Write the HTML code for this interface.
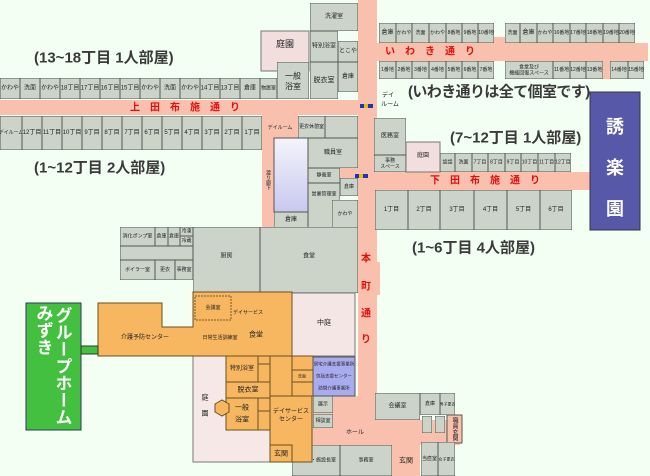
<!DOCTYPE html>
<html><head><meta charset="utf-8">
<style>
html,body{margin:0;padding:0;background:#f2fff2;}
svg{display:block;font-family:"Liberation Sans","Noto Sans CJK JP",sans-serif;}
.r rect{fill:#ccd4ca;stroke:#505850;stroke-width:1;}
.o rect{fill:#f7b660;stroke:#6a5020;stroke-width:1;}
text{font-size:6px;fill:#222;text-anchor:middle;dominant-baseline:central;}
.c{fill:#f9c0ad;}
.big{font-size:15px;font-weight:bold;fill:#3a3a3a;text-anchor:start;}
.red{font-size:10px;font-weight:bold;fill:#e01010;}
</style></head><body>
<svg width="650" height="476" viewBox="0 0 650 476">
<defs><linearGradient id="gl" x1="0" y1="0" x2="0" y2="1"><stop offset="0" stop-color="#f4f4fc"/><stop offset="1" stop-color="#c8c8ee"/></linearGradient></defs>
<rect width="650" height="476" fill="#f2fff2"/>
<!-- corridors -->
<rect class="c" x="0" y="100" width="377" height="15"/>
<rect class="c" x="358" y="0" width="19" height="420"/>
<rect class="c" x="377" y="43" width="271" height="18"/>
<rect class="c" x="494" y="37" width="11" height="8"/>
<rect class="c" x="603" y="60" width="7" height="19"/>
<rect class="c" x="262" y="115" width="36" height="23"/>
<rect class="c" x="262" y="138" width="12" height="90"/>
<rect class="c" x="340" y="168" width="20" height="10"/>
<rect class="c" x="375" y="172" width="215" height="18"/>
<rect class="c" x="375" y="262" width="5" height="33"/>
<rect class="c" x="312" y="396" width="63" height="49"/>
<rect class="c" x="375" y="420" width="85" height="25"/>
<rect class="c" x="392" y="445" width="28" height="31"/>
<rect class="c" x="447" y="415" width="15" height="28" stroke="#505850" stroke-width="1"/>
<text x="454" y="429" style="writing-mode:vertical-rl">職員玄関</text>

<text class="red" x="190" y="108" letter-spacing="10">上田布施通り</text>
<text class="red" x="435" y="52" letter-spacing="10">いわき通り</text>
<text class="red" x="490" y="181" letter-spacing="10">下田布施通り</text>
<text class="red" x="366" y="259">本</text><text class="red" x="366" y="287">町</text>
<text class="red" x="366" y="314">通</text><text class="red" x="366" y="340">り</text>
<text x="355" y="433">ホール</text>

<text class="big" x="34" y="58">(13~18丁目 1人部屋)</text>
<text class="big" x="34" y="168">(1~12丁目 2人部屋)</text>
<text class="big" x="408" y="92" letter-spacing="-0.6">(いわき通りは全て個室です)</text>
<text class="big" x="450" y="138">(7~12丁目 1人部屋)</text>
<text class="big" x="412" y="248">(1~6丁目 4人部屋)</text>

<!-- gardens -->
<rect x="261" y="31" width="48" height="40" fill="#f3dede" stroke="#777"/>
<text x="285" y="44" style="font-size:9px">庭園</text>
<rect x="406" y="142" width="34" height="30" fill="#f3dede" stroke="#777"/>
<text x="423" y="156">庭園</text>
<rect x="292" y="293" width="63" height="63" fill="#f5e6e6" stroke="#777"/>
<text x="324" y="323" style="font-size:7px">中庭</text>
<rect x="193" y="356" width="77" height="106" fill="#f5e8e6" stroke="#777"/>
<text x="205" y="398" style="font-size:7px">庭</text><text x="205" y="414" style="font-size:7px">園</text>
<rect x="274" y="138" width="34" height="74" fill="url(#gl)" stroke="#555"/>

<g class="r">
<svg x="0" y="78" width="20" height="21"><rect width="100%" height="100%"/><text x="50%" y="50%">かわや</text></svg>
<svg x="20" y="78" width="20" height="21"><rect width="100%" height="100%"/><text x="50%" y="50%">洗面</text></svg>
<svg x="40" y="78" width="20" height="21"><rect width="100%" height="100%"/><text x="50%" y="50%">かわや</text></svg>
<svg x="60" y="78" width="20" height="21"><rect width="100%" height="100%"/><text x="50%" y="50%">18丁目</text></svg>
<svg x="80" y="78" width="20" height="21"><rect width="100%" height="100%"/><text x="50%" y="50%">17丁目</text></svg>
<svg x="100" y="78" width="20" height="21"><rect width="100%" height="100%"/><text x="50%" y="50%">16丁目</text></svg>
<svg x="120" y="78" width="20" height="21"><rect width="100%" height="100%"/><text x="50%" y="50%">15丁目</text></svg>
<svg x="140" y="78" width="20" height="21"><rect width="100%" height="100%"/><text x="50%" y="50%">かわや</text></svg>
<svg x="160" y="78" width="20" height="21"><rect width="100%" height="100%"/><text x="50%" y="50%">洗面</text></svg>
<svg x="180" y="78" width="20" height="21"><rect width="100%" height="100%"/><text x="50%" y="50%">かわや</text></svg>
<svg x="200" y="78" width="20" height="21"><rect width="100%" height="100%"/><text x="50%" y="50%">14丁目</text></svg>
<svg x="220" y="78" width="20" height="21"><rect width="100%" height="100%"/><text x="50%" y="50%">13丁目</text></svg>
<svg x="240" y="78" width="20" height="21"><rect width="100%" height="100%"/><text x="50%" y="50%">倉庫</text></svg>
<svg x="260" y="78" width="17" height="21"><rect width="100%" height="100%"/><text x="50%" y="50%" style="font-size:5px">物置室</text></svg>
<svg x="277" y="62" width="32" height="37"><rect width="100%" height="100%"/><text x="50%" y="38%" style="font-size:8px">一般</text><text x="50%" y="66%" style="font-size:8px">浴室</text></svg>
<svg x="310" y="3" width="48" height="28"><rect width="100%" height="100%"/><text x="50%" y="50%">洗濯室</text></svg>
<svg x="310" y="31" width="28" height="31"><rect width="100%" height="100%"/><text x="50%" y="50%">特別浴室</text></svg>
<svg x="338" y="41" width="20" height="21"><rect width="100%" height="100%"/><text x="50%" y="50%">とこや</text></svg>
<svg x="310" y="62" width="28" height="37"><rect width="100%" height="100%"/><text x="50%" y="50%" style="font-size:7px">脱衣室</text></svg>
<svg x="338" y="62" width="20" height="30"><rect width="100%" height="100%"/><text x="50%" y="50%">倉庫</text></svg>
<svg x="0" y="116" width="22" height="34"><rect width="100%" height="100%"/><text x="50%" y="50%" style="font-size:5px">デイルーム</text></svg>
<svg x="22" y="116" width="20" height="34"><rect width="100%" height="100%"/><text x="50%" y="50%">12丁目</text></svg>
<svg x="42" y="116" width="20" height="34"><rect width="100%" height="100%"/><text x="50%" y="50%">11丁目</text></svg>
<svg x="62" y="116" width="20" height="34"><rect width="100%" height="100%"/><text x="50%" y="50%">10丁目</text></svg>
<svg x="82" y="116" width="20" height="34"><rect width="100%" height="100%"/><text x="50%" y="50%">9丁目</text></svg>
<svg x="102" y="116" width="20" height="34"><rect width="100%" height="100%"/><text x="50%" y="50%">8丁目</text></svg>
<svg x="122" y="116" width="20" height="34"><rect width="100%" height="100%"/><text x="50%" y="50%">7丁目</text></svg>
<svg x="142" y="116" width="20" height="34"><rect width="100%" height="100%"/><text x="50%" y="50%">6丁目</text></svg>
<svg x="162" y="116" width="20" height="34"><rect width="100%" height="100%"/><text x="50%" y="50%">5丁目</text></svg>
<svg x="182" y="116" width="20" height="34"><rect width="100%" height="100%"/><text x="50%" y="50%">4丁目</text></svg>
<svg x="202" y="116" width="20" height="34"><rect width="100%" height="100%"/><text x="50%" y="50%">3丁目</text></svg>
<svg x="222" y="116" width="20" height="34"><rect width="100%" height="100%"/><text x="50%" y="50%">2丁目</text></svg>
<svg x="242" y="116" width="20" height="34"><rect width="100%" height="100%"/><text x="50%" y="50%">1丁目</text></svg>
<svg x="298" y="116" width="27" height="22"><rect width="100%" height="100%"/><text x="50%" y="50%" style="font-size:5px">更衣休憩室</text></svg>
<svg x="308" y="138" width="50" height="30"><rect width="100%" height="100%"/><text x="50%" y="50%">職員室</text></svg>
<svg x="325" y="116" width="33" height="22"><rect width="100%" height="100%"/></svg>
<svg x="274" y="212" width="34" height="16"><rect width="100%" height="100%"/><text x="50%" y="50%">倉庫</text></svg>
<svg x="308" y="168" width="32" height="15"><rect width="100%" height="100%"/><text x="50%" y="50%" style="font-size:5px">静養室</text></svg>
<svg x="340" y="178" width="18" height="18"><rect width="100%" height="100%"/><text x="50%" y="50%" style="font-size:5px">倉庫</text></svg>
<svg x="308" y="183" width="32" height="45"><rect width="100%" height="100%"/><text x="50%" y="25%" style="font-size:5px">営業管理室</text></svg>
<svg x="332" y="200" width="26" height="28"><rect width="100%" height="100%"/><text x="50%" y="50%" style="font-size:5px">かわや</text></svg>
<svg x="379" y="23" width="17" height="20"><rect width="100%" height="100%"/><text x="50%" y="50%">倉庫</text></svg>
<svg x="396" y="23" width="16" height="20"><rect width="100%" height="100%"/><text x="50%" y="50%" style="font-size:5px">かわや</text></svg>
<svg x="412" y="23" width="17" height="20"><rect width="100%" height="100%"/><text x="50%" y="50%" style="font-size:5px">洗面</text></svg>
<svg x="429" y="23" width="17" height="20"><rect width="100%" height="100%"/><text x="50%" y="50%" style="font-size:5px">かわや</text></svg>
<svg x="446" y="23" width="16" height="20"><rect width="100%" height="100%"/><text x="50%" y="50%" style="font-size:5px">8番地</text></svg>
<svg x="462" y="23" width="16" height="20"><rect width="100%" height="100%"/><text x="50%" y="50%" style="font-size:5px">9番地</text></svg>
<svg x="478" y="23" width="16" height="20"><rect width="100%" height="100%"/><text x="50%" y="50%" style="font-size:5px">10番地</text></svg>
<svg x="505" y="23" width="15" height="20"><rect width="100%" height="100%"/><text x="50%" y="50%" style="font-size:5px">洗面</text></svg>
<svg x="520" y="23" width="17" height="20"><rect width="100%" height="100%"/><text x="50%" y="50%">倉庫</text></svg>
<svg x="537" y="23" width="16" height="20"><rect width="100%" height="100%"/><text x="50%" y="50%" style="font-size:5px">かわや</text></svg>
<svg x="553" y="23" width="17" height="20"><rect width="100%" height="100%"/><text x="50%" y="50%" style="font-size:5px">16番地</text></svg>
<svg x="570" y="23" width="16" height="20"><rect width="100%" height="100%"/><text x="50%" y="50%" style="font-size:5px">17番地</text></svg>
<svg x="586" y="23" width="17" height="20"><rect width="100%" height="100%"/><text x="50%" y="50%" style="font-size:5px">18番地</text></svg>
<svg x="603" y="23" width="16" height="20"><rect width="100%" height="100%"/><text x="50%" y="50%" style="font-size:5px">19番地</text></svg>
<svg x="619" y="23" width="16" height="20"><rect width="100%" height="100%"/><text x="50%" y="50%" style="font-size:5px">20番地</text></svg>
<svg x="379" y="61" width="17" height="18"><rect width="100%" height="100%"/><text x="50%" y="50%" style="font-size:5px">1番地</text></svg>
<svg x="396" y="61" width="16" height="18"><rect width="100%" height="100%"/><text x="50%" y="50%" style="font-size:5px">2番地</text></svg>
<svg x="412" y="61" width="17" height="18"><rect width="100%" height="100%"/><text x="50%" y="50%" style="font-size:5px">3番地</text></svg>
<svg x="429" y="61" width="17" height="18"><rect width="100%" height="100%"/><text x="50%" y="50%" style="font-size:5px">4番地</text></svg>
<svg x="446" y="61" width="16" height="18"><rect width="100%" height="100%"/><text x="50%" y="50%" style="font-size:5px">5番地</text></svg>
<svg x="462" y="61" width="16" height="18"><rect width="100%" height="100%"/><text x="50%" y="50%" style="font-size:5px">6番地</text></svg>
<svg x="478" y="61" width="16" height="18"><rect width="100%" height="100%"/><text x="50%" y="50%" style="font-size:5px">7番地</text></svg>
<svg x="505" y="61" width="48" height="18"><rect width="100%" height="100%"/><text x="50%" y="35%" style="font-size:5px">食堂及び</text><text x="50%" y="70%" style="font-size:5px">機能回復スペース</text></svg>
<svg x="553" y="61" width="17" height="18"><rect width="100%" height="100%"/><text x="50%" y="50%" style="font-size:5px">11番地</text></svg>
<svg x="570" y="61" width="16" height="18"><rect width="100%" height="100%"/><text x="50%" y="50%" style="font-size:5px">12番地</text></svg>
<svg x="586" y="61" width="17" height="18"><rect width="100%" height="100%"/><text x="50%" y="50%" style="font-size:5px">13番地</text></svg>
<svg x="610" y="61" width="18" height="18"><rect width="100%" height="100%"/><text x="50%" y="50%" style="font-size:5px">14番地</text></svg>
<svg x="628" y="61" width="16" height="18"><rect width="100%" height="100%"/><text x="50%" y="50%" style="font-size:5px">15番地</text></svg>
<svg x="374" y="118" width="32" height="37"><rect width="100%" height="100%"/><text x="50%" y="50%">医務室</text></svg>
<svg x="374" y="155" width="32" height="17"><rect width="100%" height="100%"/><text x="50%" y="35%" style="font-size:5px">事務</text><text x="50%" y="72%" style="font-size:5px">スペース</text></svg>
<svg x="440" y="153" width="15" height="19"><rect width="100%" height="100%"/><text x="50%" y="50%" style="font-size:5px">談話</text></svg>
<svg x="455" y="153" width="17" height="19"><rect width="100%" height="100%"/><text x="50%" y="50%" style="font-size:5px">洗面</text></svg>
<svg x="472" y="153" width="16" height="19"><rect width="100%" height="100%"/><text x="50%" y="50%" style="font-size:5px">7丁目</text></svg>
<svg x="488" y="153" width="17" height="19"><rect width="100%" height="100%"/><text x="50%" y="50%" style="font-size:5px">8丁目</text></svg>
<svg x="505" y="153" width="16" height="19"><rect width="100%" height="100%"/><text x="50%" y="50%" style="font-size:5px">9丁目</text></svg>
<svg x="521" y="153" width="17" height="19"><rect width="100%" height="100%"/><text x="50%" y="50%" style="font-size:5px">10丁目</text></svg>
<svg x="538" y="153" width="17" height="19"><rect width="100%" height="100%"/><text x="50%" y="50%" style="font-size:5px">11丁目</text></svg>
<svg x="555" y="153" width="16" height="19"><rect width="100%" height="100%"/><text x="50%" y="50%" style="font-size:5px">12丁目</text></svg>
<svg x="375" y="190" width="33" height="40"><rect width="100%" height="100%"/><text x="50%" y="50%">1丁目</text></svg>
<svg x="408" y="190" width="32" height="40"><rect width="100%" height="100%"/><text x="50%" y="50%">2丁目</text></svg>
<svg x="440" y="190" width="34" height="40"><rect width="100%" height="100%"/><text x="50%" y="50%">3丁目</text></svg>
<svg x="474" y="190" width="33" height="40"><rect width="100%" height="100%"/><text x="50%" y="50%">4丁目</text></svg>
<svg x="507" y="190" width="33" height="40"><rect width="100%" height="100%"/><text x="50%" y="50%">5丁目</text></svg>
<svg x="540" y="190" width="32" height="40"><rect width="100%" height="100%"/><text x="50%" y="50%">6丁目</text></svg>
<svg x="120" y="227" width="35" height="19"><rect width="100%" height="100%"/><text x="50%" y="50%" style="font-size:5px">消化ポンプ室</text></svg>
<svg x="155" y="227" width="13" height="19"><rect width="100%" height="100%"/><text x="50%" y="50%" style="font-size:5px">倉庫</text></svg>
<svg x="168" y="227" width="12" height="19"><rect width="100%" height="100%"/><text x="50%" y="50%" style="font-size:5px">倉庫</text></svg>
<svg x="180" y="227" width="13" height="9"><rect width="100%" height="100%"/><text x="50%" y="50%" style="font-size:5px">冷凍</text></svg>
<svg x="180" y="236" width="13" height="10"><rect width="100%" height="100%"/><text x="50%" y="50%" style="font-size:5px">冷蔵</text></svg>
<svg x="120" y="246" width="73" height="14"><rect width="100%" height="100%"/></svg>
<svg x="120" y="260" width="35" height="20"><rect width="100%" height="100%"/><text x="50%" y="50%" style="font-size:5px">ボイラー室</text></svg>
<svg x="155" y="260" width="20" height="20"><rect width="100%" height="100%"/><text x="50%" y="50%" style="font-size:5px">更衣</text></svg>
<svg x="175" y="260" width="18" height="20"><rect width="100%" height="100%"/><text x="50%" y="50%" style="font-size:5px">事務室</text></svg>
<svg x="193" y="227" width="67" height="66"><rect width="100%" height="100%"/><text x="50%" y="45%">厨房</text></svg>
<svg x="260" y="227" width="98" height="66"><rect width="100%" height="100%"/><text x="50%" y="45%">食堂</text></svg>
<svg x="313" y="396" width="20" height="17"><rect width="100%" height="100%"/><text x="50%" y="50%" style="font-size:5px">展示</text></svg>
<svg x="313" y="414" width="20" height="14"><rect width="100%" height="100%"/><text x="50%" y="50%" style="font-size:5px">相談室</text></svg>
<svg x="375" y="393" width="45" height="27"><rect width="100%" height="100%"/><text x="50%" y="50%">会議室</text></svg>
<svg x="420" y="393" width="20" height="22"><rect width="100%" height="100%"/><text x="50%" y="50%" style="font-size:5px">倉庫</text></svg>
<svg x="440" y="393" width="15" height="22"><rect width="100%" height="100%"/><text x="50%" y="50%" style="font-size:4px">男子更衣</text></svg>
<svg x="422" y="416" width="10" height="17"><rect width="100%" height="100%"/></svg>
<svg x="435" y="416" width="10" height="17"><rect width="100%" height="100%"/></svg>
<svg x="292" y="445" width="48" height="31"><rect width="100%" height="100%"/><text x="50%" y="50%" style="font-size:5px">理事長・施設長室</text></svg>
<svg x="340" y="445" width="52" height="31"><rect width="100%" height="100%"/><text x="50%" y="50%" style="font-size:5px">事務室</text></svg>
<svg x="421" y="442" width="17" height="34"><rect width="100%" height="100%"/><text x="50%" y="50%" style="font-size:5px">当直室</text></svg>
<svg x="438" y="442" width="17" height="34"><rect width="100%" height="100%"/><text x="50%" y="50%" style="font-size:4px">女子更衣</text></svg>
</g>
<text x="406" y="461" style="font-size:7px">玄関</text>
<text x="280" y="128" style="font-size:5px">デイルーム</text>
<text x="268" y="180" style="font-size:5px;writing-mode:vertical-rl">渡り廊下</text>
<text x="388" y="96" style="font-size:6px">デイ</text><text x="390" y="105" style="font-size:6px">ルーム</text>
<rect x="360" y="104" width="13" height="4" fill="#2030c0"/><rect x="364" y="104" width="4" height="4" fill="#e0c000"/>
<rect x="355" y="174" width="13" height="4" fill="#2030c0"/><rect x="359" y="174" width="4" height="4" fill="#e0c000"/>

<g class="o">
<path d="M98 303 H162 V327 H193 V292 H292 V356 H193 V356 H98 Z" fill="#f7b660" stroke="#6a5020"/>
<rect x="226" y="356" width="66" height="74"/>
<rect x="270" y="396" width="42" height="66"/>
<rect x="292" y="356" width="21" height="40"/>
</g>
<rect x="195" y="296" width="36" height="24" fill="none" stroke="#7a5a20" stroke-dasharray="2,1"/>
<text x="213" y="308" style="font-size:5px">会議室</text>
<text x="248" y="313" style="font-size:5px">デイサービス</text>
<text x="256" y="335" style="font-size:7px">食堂</text>
<text x="220" y="338" style="font-size:5px">日常生活訓練室</text>
<text x="145" y="338" style="font-size:6px">介護予防センター</text>
<g fill="none" stroke="#6a5020">
<rect x="226" y="356" width="32" height="26"/><rect x="258" y="356" width="12" height="8"/><rect x="258" y="364" width="12" height="18"/>
<rect x="226" y="382" width="44" height="16"/><rect x="226" y="398" width="32" height="32"/>
<rect x="258" y="398" width="12" height="13"/><rect x="258" y="411" width="12" height="19"/>
<rect x="292" y="356" width="21" height="14"/><rect x="292" y="370" width="21" height="12"/><rect x="292" y="382" width="21" height="14"/>
<rect x="270" y="445" width="22" height="17"/>
<polygon points="215,404 222,400 229,404 229,412 222,416 215,412" fill="#f7b660"/>
</g>
<text x="242" y="369" style="font-size:6px">特別浴室</text>
<text x="248" y="390" style="font-size:7px">脱衣室</text>
<text x="242" y="408" style="font-size:7px">一般</text><text x="242" y="420" style="font-size:7px">浴室</text>
<text x="291" y="412" style="font-size:6px">デイサービス</text><text x="291" y="420" style="font-size:6px">センター</text>
<text x="281" y="454" style="font-size:7px">玄関</text>
<text x="302" y="376" style="font-size:4px">洗面</text>
<rect x="313" y="357" width="42" height="39" fill="#a8acee" stroke="#555"/>
<text x="334" y="364" style="font-size:4.5px">居宅介護支援事業所</text>
<text x="334" y="376" style="font-size:4.5px">包括支援センター</text>
<text x="334" y="388" style="font-size:4.5px">訪問介護事業所</text>

<rect x="26" y="303" width="55" height="127" fill="#44c040" stroke="#336"/>
<rect x="81" y="346" width="17" height="8" fill="#44c040" stroke="#333"/>
<text x="62" y="366" style="font-size:17px;font-weight:bold;fill:#fff;writing-mode:vertical-rl">グループホーム</text>
<text x="43" y="330" style="font-size:17px;font-weight:bold;fill:#fff;writing-mode:vertical-rl">みずき</text>

<rect x="590" y="92" width="50" height="138" fill="#5858a8" stroke="#334"/>
<text x="615" y="127" style="font-size:18px;font-weight:bold;fill:#fff">誘</text>
<text x="615" y="168" style="font-size:18px;font-weight:bold;fill:#fff">楽</text>
<text x="615" y="209" style="font-size:18px;font-weight:bold;fill:#fff">園</text>
</svg>
</body></html>
